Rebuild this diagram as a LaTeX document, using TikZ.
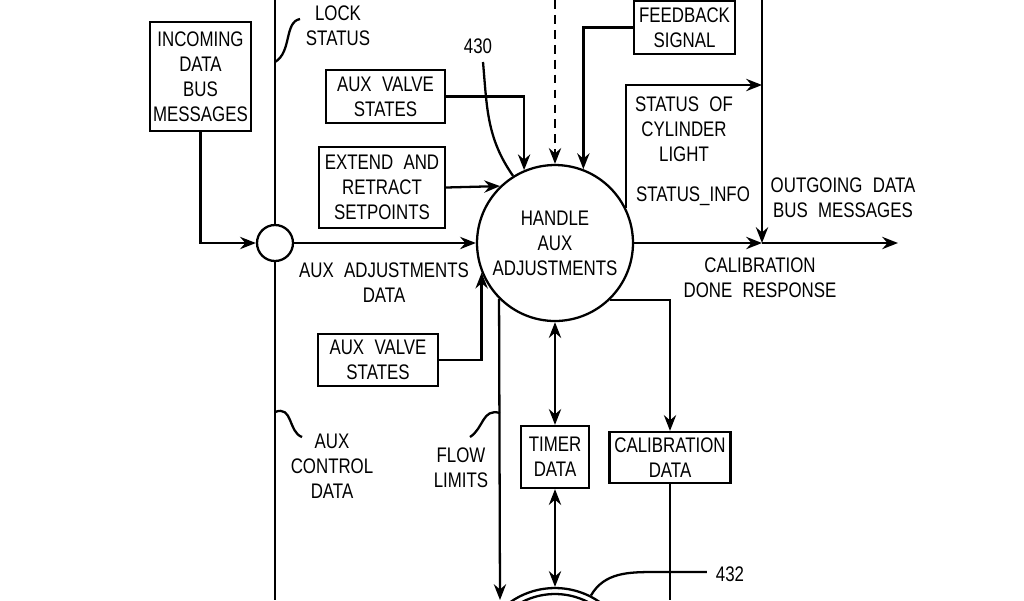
\documentclass[tikz,border=0pt]{standalone}
\usepackage{fontspec}
\setmainfont{Liberation Sans}[FakeStretch=0.8,WordSpace=2.2]
\usetikzlibrary{arrows.meta}

\begin{document}
\begin{tikzpicture}[x=0.02cm,y=-0.02cm,line width=1.3pt,
  every node/.style={font=\fontsize{12}{14.2}\selectfont,align=center,inner sep=0pt},
  box/.style={draw,rectangle},
  arr/.style={-{Stealth[length=9pt,width=7pt,inset=3pt]}},
  dbl/.style={{Stealth[length=9pt,width=7pt,inset=3pt]}-{Stealth[length=9pt,width=7pt,inset=3pt]}}]
\clip (0,0) rectangle (1024,600);
% processes and data
\node[draw,circle,minimum size=3.12cm] (handle) at (555,243) {HANDLE\\AUX\\ADJUSTMENTS};
\node[draw,circle,minimum size=0.72cm] (junc) at (275,243) {};
\node[draw,circle,minimum size=3.12cm] (store) at (555,666) {};
\draw (store.center) circle[radius=1.44cm];
\node[box,minimum width=2.02cm,minimum height=2.18cm] (inbus) at (200.5,76.5) {INCOMING\\DATA\\BUS\\MESSAGES};
\node[box,minimum width=2.38cm,minimum height=1.06cm] (valveA) at (385.5,96.5) {AUX VALVE\\STATES};
\node[box,minimum width=2.52cm,minimum height=1.62cm] (extend) at (382,187.5) {EXTEND AND\\RETRACT\\SETPOINTS};
\node[box,minimum width=2.02cm,minimum height=1.06cm] (feedback) at (684.5,27.5) {FEEDBACK\\SIGNAL};
\node[box,minimum width=2.4cm,minimum height=1.04cm] (valveB) at (378,360) {AUX VALVE\\STATES};
\node[box,minimum width=1.36cm,minimum height=1.24cm] (timer) at (555,457) {TIMER\\DATA};
\node[box,minimum width=2.42cm,minimum height=1.02cm] (calib) at (670,457.5) {CALIBRATION\\DATA};
% free ends
\coordinate (bustop) at (275,0);
\coordinate (busbot) at (275,600);
\coordinate (ctrltop) at (555,0);
\coordinate (outtop) at (762,0);
\coordinate (outjoin) at (762,243);
\coordinate (statusend) at (762,85);
\coordinate (outend) at (898,243);
\coordinate (flowbot) at (500,600);
\coordinate (calibbot) at (670,600);
% connectors
\draw (bustop) -- (junc.north);
\draw (junc.south) -- (busbot);
\draw[arr] (inbus.south) |- (junc);
\draw[arr] (junc.east) -- (handle.west);
\draw[arr] (valveA.east) -| (handle.113);
\draw[arr] (extend.east) -- (handle.134.6);
\draw[arr,dash pattern=on 5pt off 3.5pt] (ctrltop) -- (handle.north);
\draw[arr] (feedback.west) -| (handle.69);
\draw[arr] (outtop) -- (outjoin);
\draw[arr] (handle.26.2) |- (statusend);
\draw[arr] (handle.east) -- (outjoin);
\draw[arr] (outjoin) -- (outend);
\draw[arr] (handle.-46) -| (calib.north);
\draw (calib.south) -- (calibbot);
\draw[dbl] (handle.south) -- (timer.north);
\draw[dbl] (timer.south) -- (store.north);
\draw[arr] (handle.225.2) -- (flowbot);
\draw[arr] (valveB.east) -| (handle.202.6);
% labels and leaders
\node (n430) at (478,46) {430};
\draw (483,62) to[out=-85,in=125] (handle.122);
\node (n432) at (730,574) {432};
\draw (n432.west) ++(-8,-2) -- (655,572) to[out=180,in=60] (store.63);
\node (lockstat) at (338,26) {LOCK\\STATUS};
\draw (275,62) .. controls (292,52) and (284,22) .. (300,19);
\node (auxctl) at (332,466.5) {AUX\\CONTROL\\DATA};
\draw (275,412) .. controls (293,405) and (288,432) .. (302,437);
\node (flowlim) at (461,468) {FLOW\\LIMITS};
\draw (500,413) .. controls (482,408) and (484,428) .. (470,437);
\node (auxadj) at (384,282.5) {AUX ADJUSTMENTS\\DATA};
\node (statuscyl) at (684,129.5) {STATUS OF\\CYLINDER\\LIGHT};
\node (statusinfo) at (693,196) {STATUS\_INFO};
\node (outlbl) at (843,197.5) {OUTGOING DATA\\BUS MESSAGES};
\node (caldone) at (760,277.5) {CALIBRATION\\DONE RESPONSE};
\end{tikzpicture}
\end{document}
